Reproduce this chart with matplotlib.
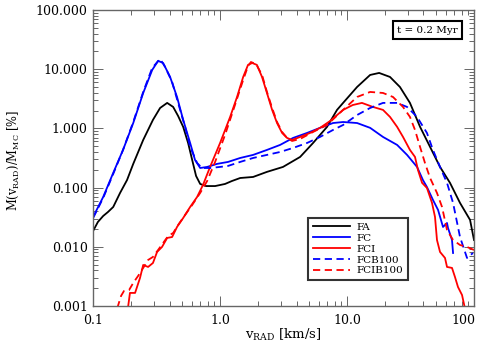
import matplotlib
matplotlib.use("Agg")
import matplotlib.pyplot as plt
import matplotlib.transforms as mtransforms
from matplotlib.ticker import FixedLocator, LogLocator, NullFormatter

plt.rcParams['font.family'] = ['DejaVu Serif']
plt.rcParams['mathtext.fontset'] = 'dejavuserif'

# FA (black solid)
fa_v = [0.100, 0.109, 0.120, 0.131, 0.144, 0.163, 0.185, 0.207, 0.248, 0.296, 0.337, 0.383,
        0.427, 0.467, 0.512, 0.560, 0.603, 0.647, 0.697, 0.776, 0.914, 1.094, 1.24, 1.44,
        1.82, 2.34, 3.13, 4.27, 5.40, 6.96, 8.34, 9.31, 12.0, 15.2, 17.9, 21.8, 26.1, 31.3,
        37.6, 45.1, 54.0, 64.7, 77.6, 93.1, 100.0]
fa_m = [0.0185, 0.0262, 0.0331, 0.0387, 0.0470, 0.0811, 0.134, 0.251, 0.637, 1.39, 2.21, 2.69,
        2.30, 1.62, 1.06, 0.566, 0.292, 0.157, 0.115, 0.106, 0.106, 0.115, 0.129, 0.145,
        0.151, 0.184, 0.223, 0.329, 0.566, 1.06, 2.05, 2.69, 5.00, 7.98, 8.63, 7.38, 5.00, 2.69,
        1.06, 0.485, 0.223, 0.120, 0.055, 0.0284, 0.0130]

# FC (blue solid)
fc_v = [0.100, 0.120, 0.144, 0.172, 0.207, 0.248, 0.292, 0.325, 0.356, 0.404, 0.458, 0.512,
        0.581, 0.635, 0.697, 0.791, 0.946, 1.156, 1.44, 1.82, 2.34, 2.97, 3.76, 4.84, 6.13,
        7.76, 9.31, 12.0, 15.2, 19.2, 24.8, 29.7, 35.6, 39.6, 42.6, 47.5, 52.1, 57.0, 61.3,
        62.4, 67.1, 68.4]
fc_m = [0.0319, 0.0693, 0.177, 0.432, 1.23, 3.96, 9.69, 13.8, 12.7, 7.38, 3.39, 1.39,
        0.566, 0.292, 0.214, 0.223, 0.251, 0.271, 0.316, 0.356, 0.432, 0.525, 0.689, 0.836, 1.02,
        1.23, 1.28, 1.23, 1.02, 0.716, 0.525, 0.356, 0.223, 0.134, 0.102, 0.0618, 0.0419, 0.0216, 0.0252,
        0.0208, 0.0130, 0.00785]

# FCI (red solid)
fci_v = [0.187, 0.189, 0.195, 0.214, 0.234, 0.248, 0.271, 0.296, 0.319, 0.349, 0.383, 0.419,
         0.458, 0.512, 0.581, 0.659, 0.734, 0.834, 1.0, 1.20, 1.36, 1.52, 1.66, 1.79, 1.95,
         2.14, 2.34, 2.57, 2.81, 3.08, 3.37, 3.69, 4.27, 5.11, 6.13, 7.35, 9.31, 11.1, 13.1,
         16.0, 19.2, 21.8, 24.8, 27.6, 31.3, 34.3, 36.2, 39.0, 42.6, 46.7, 49.3, 51.1, 54.0,
         59.1, 61.3, 67.1, 70.8, 74.8, 80.5, 84.9]
fci_m = [0.0008, 0.00100, 0.00166, 0.00166, 0.00297, 0.00493, 0.00456, 0.00532, 0.00817, 0.00993,
         0.0141, 0.0146, 0.0216, 0.0306, 0.0470, 0.0693, 0.111, 0.223, 0.566, 1.56, 3.39, 7.38,
         11.8, 12.7, 11.8, 7.38, 3.96, 2.05, 1.23, 0.836, 0.689, 0.637, 0.716, 0.836, 1.02, 1.33,
         2.05, 2.48, 2.69, 2.30, 2.05, 1.56, 1.06, 0.716, 0.432, 0.329, 0.198, 0.120, 0.0985,
         0.055, 0.0319, 0.0130, 0.00817, 0.00647, 0.00456, 0.00439, 0.00309, 0.00209, 0.00153,
         0.0009]

# FCB100 (blue dashed)
fcb_v = [0.100, 0.120, 0.144, 0.172, 0.207, 0.248, 0.292, 0.337, 0.369, 0.419, 0.467, 0.530,
         0.581, 0.659, 0.721, 0.834, 1.0, 1.156, 1.44, 1.82, 2.34, 2.97, 3.76, 4.84, 6.13, 7.76,
         9.31, 12.0, 15.2, 19.2, 24.8, 29.7, 35.6, 42.6, 47.5, 54.0, 61.3, 68.4, 77.6, 88.1, 98.2]
fcb_m = [0.0306, 0.0667, 0.170, 0.432, 1.28, 4.12, 10.5, 14.9, 10.9, 6.08, 2.69, 1.06,
         0.485, 0.260, 0.214, 0.214, 0.223, 0.232, 0.271, 0.316, 0.356, 0.399, 0.467, 0.566, 0.716, 0.940,
         1.14, 1.68, 2.21, 2.69, 2.69, 2.30, 1.56, 0.836, 0.432, 0.223, 0.120, 0.055, 0.0146, 0.00647, 0.00785]

# FCIB100 (red dashed)
fcib_v = [0.155, 0.166, 0.175, 0.192, 0.207, 0.226, 0.248, 0.271, 0.296, 0.325, 0.356, 0.390,
          0.427, 0.467, 0.530, 0.603, 0.697, 0.791, 0.914, 1.094, 1.31, 1.52, 1.66, 1.75, 1.92,
          2.14, 2.34, 2.57, 2.81, 3.08, 3.37, 3.69, 4.27, 5.40, 6.96, 9.31, 12.0, 15.2, 19.2,
          23.0, 27.6, 31.3, 34.3, 37.6, 41.1, 45.1, 51.1, 56.0, 61.3, 68.4, 77.6, 88.1, 100.0]
fcib_m = [0.00092, 0.00148, 0.00179, 0.00186, 0.00245, 0.00321, 0.00439, 0.00598, 0.00673, 0.00883,
          0.0116, 0.0152, 0.0171, 0.0233, 0.0344, 0.0508, 0.0811, 0.129, 0.271, 0.774, 2.48, 6.57,
          11.3, 13.2, 12.2, 7.98, 4.12, 2.21, 1.28, 0.869, 0.689, 0.612, 0.662, 0.869, 1.14, 2.05,
          3.39, 4.12, 3.96, 3.39, 2.30, 1.56, 0.940, 0.485, 0.260, 0.145, 0.0811, 0.0470, 0.0192,
          0.0130, 0.0107, 0.00993, 0.00883]

ytick_vals = [0.001, 0.01, 0.1, 1, 10, 100]
ytick_labels = ['0.001', '0.010', '0.100', '1.000', '10.000', '100.000']
xtick_vals = [0.1, 1, 10, 100]
xtick_labels = ['0.1', '1.0', '10.0', '100']

fig = plt.figure(figsize=(4.8, 3.43), dpi=100)
ax = fig.add_axes([0.194, 0.108, 0.7935, 0.863])

lw = 1.3
ax.plot(fa_v, fa_m, color='black', lw=lw, label='FA')
ax.plot(fc_v, fc_m, color='blue', lw=lw, label='FC')
ax.plot(fci_v, fci_m, color='red', lw=lw, label='FCI')
ax.plot(fcb_v, fcb_m, color='blue', lw=lw, ls=(0, (4, 2.5)), label='FCB100')
ax.plot(fcib_v, fcib_m, color='red', lw=lw, ls=(0, (4, 2.5)), label='FCIB100')

ax.set_xscale('log')
ax.set_yscale('log')
ax.set_xlim(0.1, 100)
ax.set_ylim(0.001, 100)

ax.yaxis.set_major_locator(FixedLocator(ytick_vals))
ax.set_yticklabels(ytick_labels)
ax.xaxis.set_major_locator(FixedLocator(xtick_vals))
ax.set_xticklabels(xtick_labels)
ax.xaxis.set_minor_locator(LogLocator(base=10, subs=range(2, 10)))
ax.yaxis.set_minor_locator(LogLocator(base=10, subs=range(2, 10)))
ax.xaxis.set_minor_formatter(NullFormatter())
ax.yaxis.set_minor_formatter(NullFormatter())

ax.tick_params(which='both', direction='in', top=True, right=True, color='#666666',
               labelsize=9, width=0.7)
ax.tick_params(which='major', length=7, pad=4)
ax.tick_params(axis='x', which='major', pad=6)
ax.tick_params(which='minor', length=3.5)
for s in ax.spines.values():
    s.set_color('#666666')
    s.set_linewidth(1.0)

# keep the last x tick label inside the figure
last = ax.get_xticklabels()[-1]
last.set_transform(last.get_transform() + mtransforms.ScaledTranslation(-0.11, 0, fig.dpi_scale_trans))

ax.set_ylabel(r'M(v$_{\mathregular{RAD}}$)/M$_{\mathregular{MC}}$ [%]', fontsize=8.3)
ax.yaxis.set_label_coords(-0.19, 0.49)
ax.set_xlabel(r'v$_{\mathregular{RAD}}$ [km/s]', fontsize=9.5)
ax.xaxis.set_label_coords(0.5, -0.07)

leg = ax.legend(loc='upper left', bbox_to_anchor=(0.564, 0.297), fontsize=7.5,
                frameon=True, fancybox=False, handlelength=3.6, labelspacing=0.15,
                borderpad=0.45, handletextpad=0.6, borderaxespad=0)
leg.get_frame().set_edgecolor('black')
leg.get_frame().set_linewidth(1.5)

ax.text(0.877, 0.932, 't = 0.2 Myr', transform=ax.transAxes, ha='center', va='center',
        fontsize=7.5, bbox=dict(boxstyle='square,pad=0.4', fc='white', ec='black', lw=1.5))

fig.savefig('out.png', dpi=100)
